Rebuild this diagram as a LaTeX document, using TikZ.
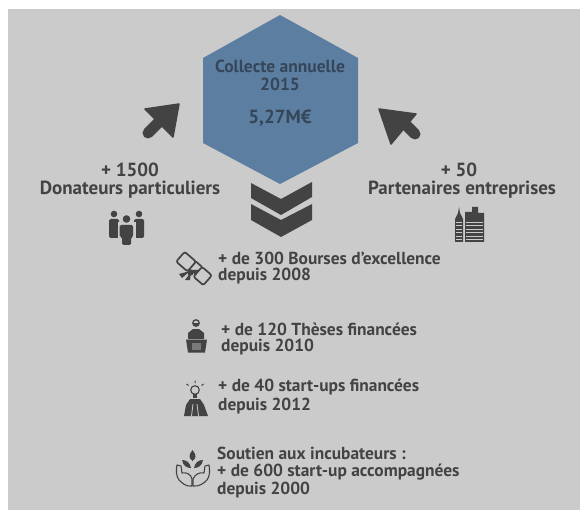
\documentclass[tikz,border=0pt]{standalone}
\usepackage{fontspec}
\setmainfont{PT Sans}
\definecolor{bgc}{HTML}{CBCBCB}
\definecolor{hexc}{HTML}{5C7EA0}
\definecolor{ink}{HTML}{434343}
\definecolor{hexink}{HTML}{36465A}
\definecolor{midgray}{HTML}{7A7A7A}
\tikzset{
 big/.style={font=\fontsize{19}{22}\selectfont\bfseries,text=ink,inner sep=0pt,anchor=center},
 hextxt/.style={font=\fontsize{17.5}{20}\selectfont\bfseries,text=hexink,inner sep=0pt,anchor=center},
 hexnum/.style={font=\fontsize{19}{22}\selectfont\bfseries,text=hexink,inner sep=0pt,anchor=center},
 item/.style={font=\fontsize{17.4}{20}\selectfont\bfseries,text=ink,inner sep=0pt,anchor=west},
 lineink/.style={draw=ink,line width=1.7pt,fill=none},
 arrowhead/.style={fill=ink,draw=ink,line width=1.5pt,line join=round},
 arrowshaft/.style={draw=ink,line width=11pt,line cap=round}
}
\begin{document}
\begin{tikzpicture}[x=1pt,y=-1pt]
\useasboundingbox (0,0) rectangle (580,510);
\fill[white] (0,0) rectangle (580,510);
\fill[bgc] (8,9) rectangle (580,510);
% hexagon
\fill[hexc] (280,15) -- (358,58) -- (358,143) -- (280,184) -- (203,143) -- (203,58) -- cycle;
\node[hextxt] (t1) at (280,66) {Collecte annuelle};
\node[hextxt] (t2) at (280,84) {2015};
\node[hexnum] (t3) at (280,118) {5,27M€};
% arrows
\draw[arrowshaft] (148,133) -- (164,117);
\fill[arrowhead] (179,104) -- (145,109) -- (173,137) -- cycle;
\draw[arrowshaft] (415,134) -- (398,117);
\fill[arrowhead] (379,109) -- (416,114) -- (391,144) -- cycle;
% chevrons
\fill[ink] (251,183) -- (281,199) -- (312,182) -- (312,197) -- (281,215) -- (251,198) -- cycle;
\fill[ink] (251,204) -- (281,220) -- (312,204) -- (312,220) -- (281,237) -- (251,220) -- cycle;
% headings
\node[big] (d1) at (130,170) {+ 1500};
\node[big] (d2) at (130,190) {Donateurs particuliers};
\node[big] (p1) at (459,170) {+ 50};
\node[big] (p2) at (462,190) {Partenaires entreprises};
% people icon
\fill[ink] (114,214) circle (3.3);
\fill[ink] (139,214) circle (3.3);
\fill[ink,rounded corners=1.5pt] (109,219) -- (119,219) -- (119,238) -- (109,238) -- cycle;
\fill[ink,rounded corners=1.5pt] (134,219) -- (144,219) -- (144,238) -- (134,238) -- cycle;
\fill[bgc] (117.5,222) rectangle (135.5,246);
\fill[ink] (126.5,219) circle (3.8);
\fill[ink,rounded corners=1.5pt] (119.5,225) -- (133,225) -- (133,237) -- (131,237) -- (131,245) -- (122,245) -- (122,237) -- (119.5,237) -- cycle;
% building icon
\fill[ink] (455,219) -- (458,213) -- (459,207) -- (460,213) -- (463,219) -- (463,242) -- (455,242) -- cycle;
\fill[ink] (465,212) -- (472,212) -- (472,207) -- (478,207) -- (478,213) -- (484,213) -- (484,242) -- (465,242) -- cycle;
\foreach \yy in {222,225.5,229,232.5,236,239}{
  \draw[bgc,line width=.9pt] (456,\yy) -- (462,\yy);
  \draw[bgc,line width=.9pt] (466,\yy) -- (483,\yy);
}
% items
\node[item] (a1) at (218,258) {+ de 300 Bourses d'excellence};
\node[item] (a2) at (218,276) {depuis 2008};
\node[item] (b1) at (221,329) {+ de 120 Thèses financées};
\node[item] (b2) at (221,347) {depuis 2010};
\node[item] (c1) at (218,387) {+ de 40 start-ups financées};
\node[item] (c2) at (218,406) {depuis 2012};
\node[item] (e1) at (217,453) {Soutien aux incubateurs :};
\node[item] (e2) at (217,472) {+ de 600 start-up accompagnées};
\node[item] (e3) at (217,490) {depuis 2000};
% diploma icon
\begin{scope}[shift={(194,268.5)},rotate=-41]
\draw[lineink,rounded corners=2pt] (-18,-6.5) rectangle (-3,6.5);
\draw[lineink,rounded corners=2pt] (5,-6.5) rectangle (18,6.5);
\draw[lineink] (-3,-6.5) -- (5,-6.5);
\end{scope}
\fill[ink] (190.5,272.5) circle (3.2);
\fill[ink] (190,271) -- (179,274) -- (182,278) -- cycle;
\fill[ink] (191,272) -- (190,280) -- (185,280) -- cycle;
\fill[ink] (191,270) -- (199,270) -- (195,275) -- cycle;
% speaker icon
\draw[ink,line width=1.3pt] (196,323) circle (3.2);
\fill[ink] (192.8,323) arc[start angle=180,end angle=0,radius=3.2] -- cycle;
\fill[ink] (188,339) -- (188,333) -- (193,329) -- (199,329) -- (204,333) -- (204,339) -- cycle;
\fill[ink] (186,339.5) -- (207,339.5) -- (205,352.5) -- (188,352.5) -- cycle;
\fill[midgray] (192,342.5) rectangle (201,349.5);
% bulb icon
\draw[ink,line width=1.1pt] (195,390) circle (4.3);
\fill[ink] (193,394) rectangle (197,398);
\draw[ink,line width=1pt] (195,380.5) -- (195,383) (186.5,384) -- (188.5,385.5) (203.5,384) -- (201.5,385.5);
\fill[ink] (190,399) -- (200,399) -- (204,405) -- (208,416) -- (184,416) -- (186,405) -- cycle;
\draw[bgc,line width=.8pt] (193,404) -- (191.5,416) (197,404) -- (198.5,416);
% hands icon
\fill[ink] (192.5,450) .. controls (188.5,455) and (188.5,458) .. (192.5,461) .. controls (196.5,458) and (196.5,455) .. (192.5,450) -- cycle;
\fill[ink] (182,460) .. controls (183,466) and (187,468) .. (191,468) .. controls (190,463) and (187,460) .. (182,460) -- cycle;
\fill[ink] (203,460) .. controls (202,466) and (198,468) .. (194,468) .. controls (195,463) and (198,460) .. (203,460) -- cycle;
\draw[ink,line width=1.1pt,line join=round] (192,486) .. controls (186,487) and (182,483) .. (179,480) .. controls (176,476) and (176,470) .. (177,465) -- (181,466) -- (182,473) .. controls (186,472) and (191,474) .. (192,479) -- cycle;
\draw[ink,line width=1.1pt,line join=round] (193,486) .. controls (199,487) and (204,483) .. (207,480) .. controls (210,476) and (210,470) .. (209,465) -- (205,466) -- (204,473) .. controls (200,472) and (195,474) .. (193,479) -- cycle;
\end{tikzpicture}
\end{document}
